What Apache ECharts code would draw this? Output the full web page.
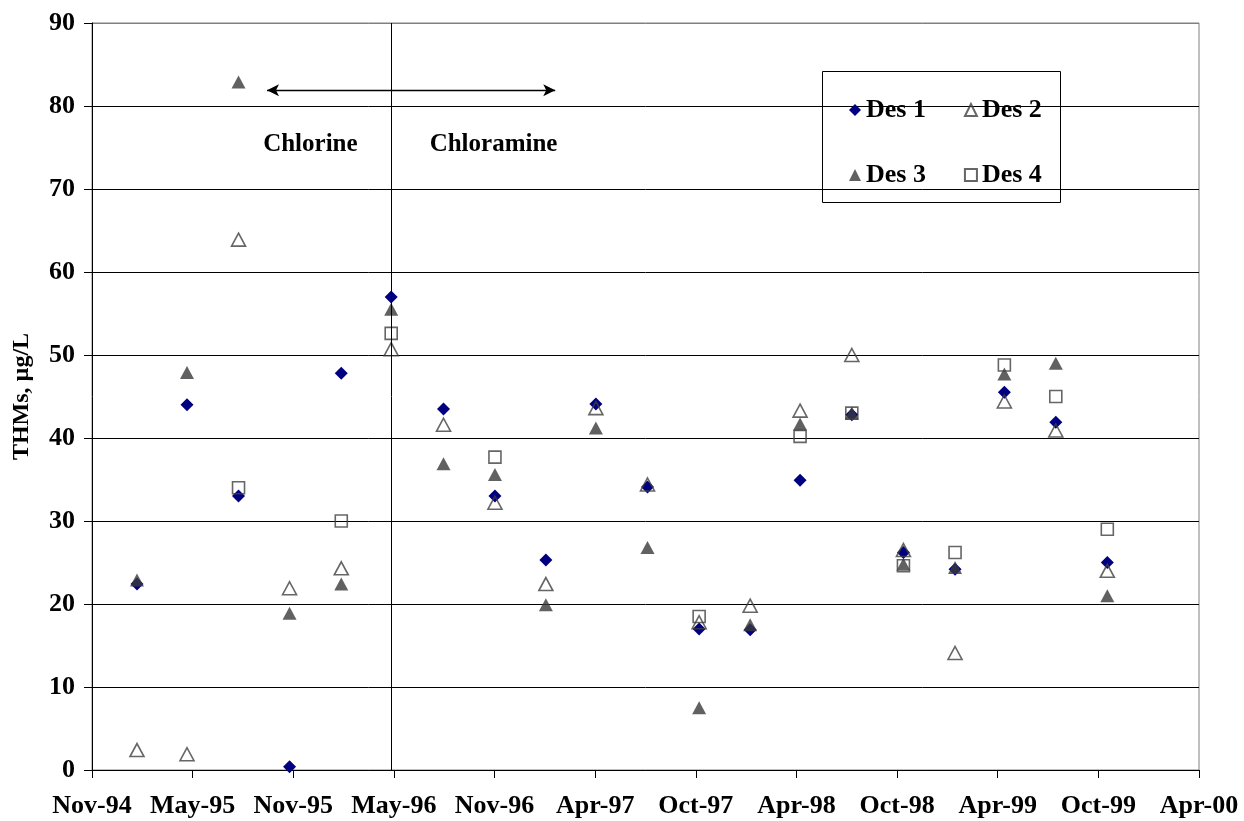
<!DOCTYPE html>
<html>
<head>
<meta charset="utf-8">
<script src="https://cdn.jsdelivr.net/npm/echarts@6/dist/echarts.min.js"></script>
<style>
html,body{margin:0;padding:0;background:#fff;}
#chart{width:1244px;height:821px;}
</style>
</head>
<body>
<div id="chart"></div>
<script>
// x positions of samples, in half-year axis units counted from Nov-94
const sampleX = [0.447, 0.944, 1.456, 1.963, 2.477, 2.973, 3.493, 4.004, 4.510, 5.007,
                 5.520, 6.033, 6.540, 7.036, 7.550, 8.063, 8.576, 9.066, 9.577, 10.089];
const xTickLabels = ['Nov-94','May-95','Nov-95','May-96','Nov-96','Apr-97','Oct-97',
                     'Apr-98','Oct-98','Apr-99','Oct-99','Apr-00'];
const seriesNames = ['Des 1','Des 2','Des 3','Des 4'];
const des1 = [22.4, 44.0, 33.0, 0.4, 47.8, 57.0, 43.5, 33.0, 25.3, 44.1,
              34.1, 17.0, 16.9, 34.9, 42.8, 26.2, 24.2, 45.5, 41.9, 25.0];
const des2 = [2.4, 1.9, 63.9, 21.9, 24.3, 50.7, 41.6, 32.2, 22.4, 43.6,
              34.4, 17.8, 19.8, 43.3, 50.0, 26.5, 14.1, 44.4, 40.9, 24.0];
const des3 = [22.9, 47.9, 82.9, 18.9, 22.4, 55.5, 36.9, 35.6, 19.9, 41.2,
              26.8, 7.5, 17.5, 41.7, 43.0, 24.8, 24.4, 47.7, 49.0, 21.0];
const des4 = [null, null, 34.0, null, 30.0, 52.6, null, 37.7, null, null,
              null, 18.5, null, 40.2, 43.0, 24.6, 26.2, 48.8, 45.0, 29.0];
// annotations
const dividerX = 2.97;
const arrowFrom = [1.739, 81.9];
const arrowTo = [4.603, 81.9];
const phaseLabels = [
  {text: 'Chlorine', x: 2.17, y: 75.4},
  {text: 'Chloramine', x: 3.99, y: 75.4}
];

const FONT = "'Liberation Serif', 'Times New Roman', serif";
const pair = (vals) => sampleX.map((x, i) => [x, vals[i]]).filter(p => p[1] !== null);

const chart = echarts.init(document.getElementById('chart'), null, {renderer: 'canvas'});
const legendText = {fontFamily: FONT, fontWeight: 'bold', fontSize: 26, color: '#000'};

const option = {
  animation: false,
  backgroundColor: '#fff',
  grid: {left: 92, right: 45, top: 23, bottom: 51, show: true, borderColor: '#808080', borderWidth: 1,
         containLabel: false, outerBoundsMode: 'none'},
  xAxis: {
    type: 'value', min: 0, max: 11, interval: 1,
    axisLine: {lineStyle: {color: '#000', width: 1}},
    axisTick: {show: true, inside: false, length: 8, lineStyle: {color: '#000'}},
    splitLine: {show: false},
    axisLabel: {
      margin: 23, fontFamily: FONT, fontWeight: 'bold', fontSize: 26, color: '#000',
      hideOverlap: false,
      formatter: (v) => xTickLabels[Math.round(v)] || ''
    }
  },
  yAxis: {
    type: 'value', min: 0, max: 90, interval: 10,
    name: 'THMs, \u00b5g/L', nameLocation: 'middle', nameGap: 58,
    nameTextStyle: {fontFamily: FONT, fontWeight: 'bold', fontSize: 24, color: '#000'},
    axisLine: {show: true, lineStyle: {color: '#000', width: 1}},
    axisTick: {show: true, inside: false, length: 8, lineStyle: {color: '#000'}},
    splitLine: {show: true, lineStyle: {color: ['#000','#000','#000','#000','#000','#000','#000','#000','#000','#808080'], width: 1}},
    axisLabel: {margin: 17, fontFamily: FONT, fontWeight: 'bold', fontSize: 26, color: '#000'}
  },
  legend: [
    {data: ['Des 1','Des 2'], left: 844, top: 92, itemWidth: 12, itemHeight: 12, itemGap: 38, textStyle: legendText, selectedMode: false},
    {data: ['Des 3','Des 4'], left: 844, top: 157, itemWidth: 12, itemHeight: 12, itemGap: 38, textStyle: legendText, selectedMode: false}
  ],
  graphic: [
    {type: 'rect', left: 822, top: 71, z: 0, zlevel: 0,
     shape: {width: 238, height: 131}, style: {fill: '#fff', stroke: '#000', lineWidth: 1}}
  ],
  series: [
    {
      name: seriesNames[0], type: 'scatter', data: pair(des1),
      symbol: 'diamond', symbolSize: [13, 13],
      itemStyle: {color: '#000080', opacity: 1},
      markLine: {
        silent: true, animation: false,
        label: {show: false},
        symbol: ['none', 'none'],
        data: [{xAxis: dividerX}],
        lineStyle: {color: '#000', width: 1, type: 'solid'}
      },
      markPoint: {
        silent: true, animation: false, symbol: 'circle', symbolSize: 0,
        label: {show: true, position: 'inside', fontFamily: FONT, fontWeight: 'bold', fontSize: 25, color: '#000',
                formatter: (p) => p.name},
        data: phaseLabels.map(l => ({name: l.text, coord: [l.x, l.y], value: 0}))
      }
    },
    {
      name: seriesNames[1], type: 'scatter', data: pair(des2),
      symbol: 'triangle', symbolSize: [14, 13],
      itemStyle: {color: 'rgba(255,255,255,0)', borderColor: '#404040', borderWidth: 1.6},
      markLine: {
        silent: true, animation: false,
        label: {show: false},
        symbol: ['arrow', 'arrow'], symbolSize: [9, 12],
        data: [[{coord: arrowFrom}, {coord: arrowTo}]],
        lineStyle: {color: '#000', width: 1.3, type: 'solid'}
      }
    },
    {
      name: seriesNames[2], type: 'scatter', data: pair(des3),
      symbol: 'triangle', symbolSize: [14, 13],
      itemStyle: {color: '#3a3a3a'}
    },
    {
      name: seriesNames[3], type: 'scatter', data: pair(des4),
      symbol: 'rect', symbolSize: [12, 12],
      itemStyle: {color: 'rgba(255,255,255,0)', borderColor: '#404040', borderWidth: 1.6}
    }
  ]
};
chart.setOption(option);
</script>
</body>
</html>
